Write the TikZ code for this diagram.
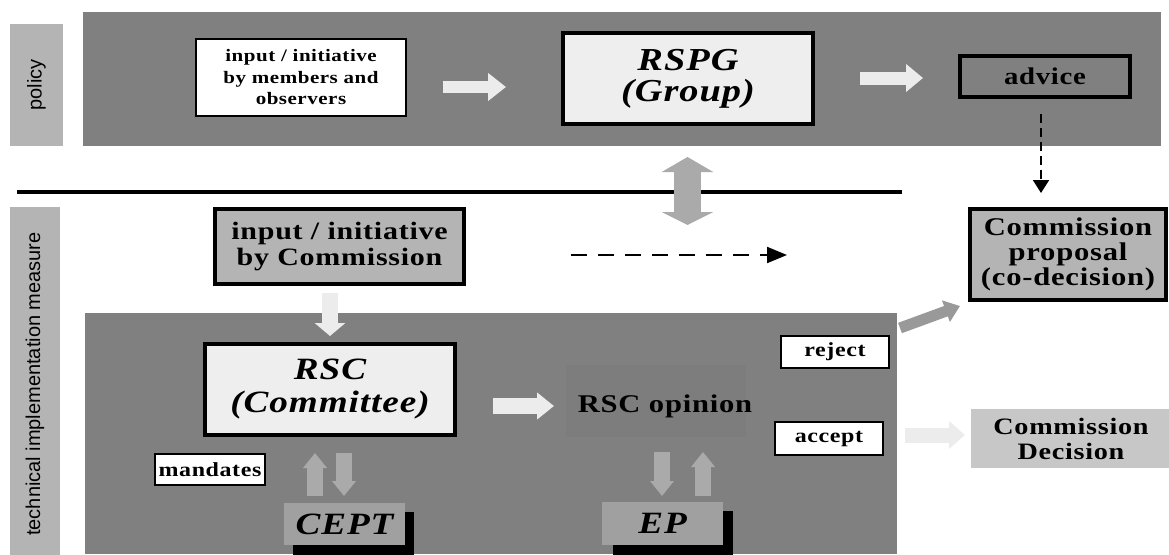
\documentclass[tikz,border=0pt]{standalone}
\usepackage{fontspec}
\setmainfont{Liberation Serif}
\setsansfont{Liberation Sans}
\newfontfamily\spaced[FakeStretch=1.2,LetterSpace=3]{Liberation Serif}
\usetikzlibrary{arrows.meta}
\definecolor{band}{HTML}{808080}
\definecolor{lbl}{HTML}{B4B4B4}
\definecolor{lite}{HTML}{EEEEEE}
\definecolor{arr}{HTML}{ECECEC}
\definecolor{midg}{HTML}{AAAAAA}
\definecolor{cept}{HTML}{A0A0A0}
\definecolor{opin}{HTML}{7D7D7D}
\begin{document}
\begin{tikzpicture}[x=1pt,y=-1pt,
  thickbox/.style={draw=black,line width=4pt,align=center,inner sep=0pt},
  thinbox/.style={draw=black,line width=1.5pt,fill=white,align=center,inner sep=0pt},
  ]
\useasboundingbox (0,0) rectangle (1169,554);
% bands and side labels
\fill[band] (83,12) rectangle (1161,146);
\fill[band] (85,313) rectangle (897,554);
\node[fill=lbl,minimum width=53pt,minimum height=122pt,inner sep=0pt] (pol) at (36.5,85) {};
\node[rotate=90,font=\sffamily\fontsize{20}{22}\selectfont] (polt) at (pol.center) {policy};
\node[fill=lbl,minimum width=50pt,minimum height=350pt,inner sep=0pt] (tech) at (35,382) {};
\node[rotate=90,font=\sffamily\fontsize{20}{22}\selectfont] (techt) at (35,384) {technical implementation measure};
\draw[line width=4pt] (17,192) coordinate (l1) -- (902,192) coordinate (l2);
% top row
\node[thinbox,minimum width=210pt,minimum height=77pt,font=\spaced\bfseries\fontsize{17.5}{21.5}\selectfont] (mem) at (301,77.5) {input / initiative\\by members and\\observers};
\node[thickbox,fill=lite,minimum width=250pt,minimum height=91pt,font=\spaced\bfseries\itshape\fontsize{32}{31}\selectfont] (rspg) at (688,78.5) {RSPG\\(Group)};
\node[thickbox,minimum width=170pt,minimum height=41pt,font=\spaced\bfseries\fontsize{24}{26}\selectfont] (adv) at (1045,76.5) {advice};
% middle row
\node[thickbox,fill=lbl,minimum width=249pt,minimum height=75pt,font=\spaced\bfseries\fontsize{25}{26}\selectfont] (inc) at (339.5,246.5) {input / initiative\\by Commission};
\node[thickbox,fill=lbl,minimum width=196pt,minimum height=91pt,font=\spaced\bfseries\fontsize{25.5}{25}\selectfont] (prop) at (1068,254.5) {Commission\\proposal\\(co-decision)};
% bottom row
\node[thickbox,fill=lite,minimum width=250pt,minimum height=91pt,font=\spaced\bfseries\itshape\fontsize{31}{33}\selectfont] (rsc) at (330,389.5) {RSC\\(Committee)};
\node[fill=opin,minimum width=180pt,minimum height=72pt,inner sep=0pt] (opb) at (656,401) {};
\node[font=\spaced\bfseries\fontsize{25.5}{27}\selectfont,inner sep=0pt] (op) at (665,406) {RSC opinion};
\node[thinbox,minimum width=108pt,minimum height=32pt,font=\spaced\bfseries\fontsize{20}{22}\selectfont] (rej) at (835,352) {reject};
\node[thinbox,minimum width=108pt,minimum height=33pt,font=\spaced\bfseries\fontsize{20}{22}\selectfont] (acc) at (829,438.5) {accept};
\node[fill=black!22,minimum width=200pt,minimum height=59pt,inner sep=0pt,align=center,font=\spaced\bfseries\fontsize{23.5}{25}\selectfont] (dec) at (1071,438.5) {Commission\\Decision};
\node[thinbox,minimum width=110pt,minimum height=31pt,font=\spaced\bfseries\fontsize{20}{22}\selectfont] (man) at (210,469.5) {mandates};
\fill[black] (293,512) rectangle (414,560);
\node[fill=cept,minimum width=121pt,minimum height=42pt,inner sep=0pt,font=\spaced\bfseries\itshape\fontsize{31}{33}\selectfont] (ce) at (344.5,524) {CEPT};
\fill[black] (613,511) rectangle (733,560);
\node[fill=cept,minimum width=121pt,minimum height=43pt,inner sep=0pt,font=\spaced\bfseries\itshape\fontsize{31}{33}\selectfont] (ep) at (662.5,523.5) {EP};
% block arrows
\coordinate (a1s) at (443,87); \coordinate (a1e) at (506,87);
\draw[arr,line width=12pt,-{Triangle[length=18pt,width=27pt]}] (a1s) -- (a1e);
\coordinate (a2s) at (860,78); \coordinate (a2e) at (923,78);
\draw[arr,line width=13pt,-{Triangle[length=17pt,width=27pt]}] (a2s) -- (a2e);
\coordinate (v1) at (687.5,157); \coordinate (v2) at (687.5,225);
\draw[midg,line width=27pt,{Triangle[length=15pt,width=51pt]}-{Triangle[length=13pt,width=51pt]}] (v1) -- (v2);
\coordinate (a4s) at (330,293); \coordinate (a4e) at (330,336);
\draw[arr,line width=16pt,-{Triangle[length=13pt,width=30pt]}] (a4s) -- (a4e);
\coordinate (a5s) at (493,406); \coordinate (a5e) at (554,406);
\draw[arr,line width=16pt,-{Triangle[length=17pt,width=26pt]}] (a5s) -- (a5e);
\coordinate (c1s) at (315,496); \coordinate (c1e) at (315,453);
\draw[midg,line width=16pt,-{Triangle[length=15pt,width=23pt]}] (c1s) -- (c1e);
\coordinate (c2s) at (344,453); \coordinate (c2e) at (344,496);
\draw[midg,line width=16pt,-{Triangle[length=15pt,width=23pt]}] (c2s) -- (c2e);
\coordinate (e1s) at (662,452); \coordinate (e1e) at (662,496);
\draw[midg,line width=16pt,-{Triangle[length=15pt,width=23pt]}] (e1s) -- (e1e);
\coordinate (e2s) at (703,496); \coordinate (e2e) at (703,452);
\draw[midg,line width=16pt,-{Triangle[length=15pt,width=23pt]}] (e2s) -- (e2e);
\coordinate (p1) at (900,328); \coordinate (p2) at (960,306);
\draw[black!40,line width=11pt,-{Triangle[length=15pt,width=22pt]}] (p1) -- (p2);
\coordinate (d1) at (905,435); \coordinate (d2) at (965,435);
\draw[arr,line width=15pt,-{Triangle[length=16pt,width=27pt]}] (d1) -- (d2);
% dashed arrows
\coordinate (ds) at (1041,114);
\draw[line width=2pt,dash pattern=on 9pt off 5pt,-{Triangle[length=13pt,width=16pt]}] (ds) -- (1041,193) coordinate (dt);
\coordinate (h1) at (571,255); \coordinate (h2) at (787,255);
\draw[line width=2pt,dash pattern=on 16pt off 11pt,-{Triangle[length=20pt,width=16pt]}] (h1) -- (h2);
\end{tikzpicture}
\end{document}
